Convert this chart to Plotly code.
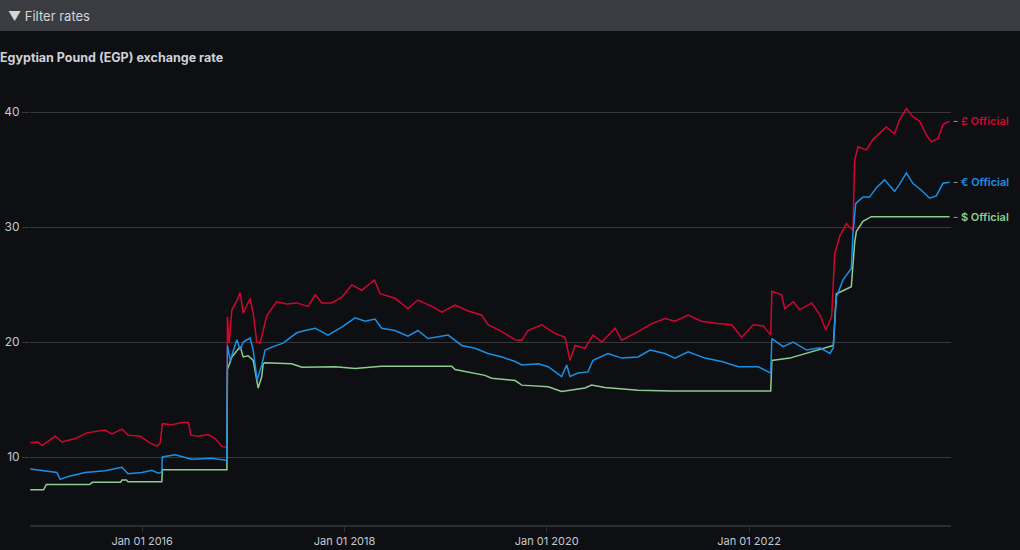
import plotly.graph_objects as go

# ---------------- data ----------------
gbp_dates = [
    "2014-11-23", "2014-12-20", "2015-01-04", "2015-02-21", "2015-03-17", "2015-05-04",
    "2015-06-15", "2015-08-20", "2015-09-14", "2015-10-20", "2015-11-11", "2015-12-25",
    "2016-01-30", "2016-02-23", "2016-03-06", "2016-03-14", "2016-04-17", "2016-05-23",
    "2016-06-16", "2016-06-25", "2016-07-21", "2016-08-26", "2016-09-21", "2016-10-15",
    "2016-11-02", "2016-11-04", "2016-11-10", "2016-11-20", "2016-12-08", "2016-12-20",
    "2016-12-31", "2017-01-25", "2017-02-05", "2017-02-18", "2017-03-02", "2017-03-26",
    "2017-05-01", "2017-06-06", "2017-07-12", "2017-08-22", "2017-09-17", "2017-10-11",
    "2017-11-16", "2017-12-22", "2018-01-27", "2018-03-04", "2018-04-19", "2018-05-09",
    "2018-07-02", "2018-08-18", "2018-09-23", "2018-11-12", "2018-12-18", "2019-02-04",
    "2019-03-23", "2019-05-11", "2019-06-03", "2019-07-23", "2019-09-09", "2019-10-03",
    "2019-10-25", "2019-12-14", "2020-01-31", "2020-03-07", "2020-03-25", "2020-04-12",
    "2020-05-18", "2020-06-16", "2020-07-18", "2020-09-04", "2020-09-28", "2020-11-26",
    "2021-01-14", "2021-03-03", "2021-04-08", "2021-05-26", "2021-07-13", "2021-09-10",
    "2021-10-30", "2021-12-05", "2022-01-16", "2022-02-21", "2022-03-20", "2022-03-24",
    "2022-04-28", "2022-05-10", "2022-06-09", "2022-07-03", "2022-08-15", "2022-09-14",
    "2022-10-05", "2022-10-26", "2022-11-06", "2022-11-24", "2022-12-18", "2023-01-11",
    "2023-01-17", "2023-01-29", "2023-02-28", "2023-03-24", "2023-05-11", "2023-06-10",
    "2023-06-28", "2023-07-23", "2023-08-15", "2023-09-09", "2023-10-03", "2023-10-21",
    "2023-11-14", "2023-12-02", "2023-12-26",
]
gbp_values = [
    11.25, 11.3, 11.0, 11.8, 11.3, 11.6,
    12.1, 12.35, 12.0, 12.43, 11.9, 11.8,
    11.2, 10.95, 11.2, 12.9, 12.8, 13.0,
    13.0, 11.9, 11.8, 11.95, 11.6, 10.9,
    10.85, 22.2, 19.9, 22.8, 23.6, 24.3,
    22.5, 23.8, 22.5, 20.0, 19.9, 22.3,
    23.5, 23.3, 23.4, 23.1, 24.1, 23.4,
    23.4, 23.9, 24.96, 24.5, 25.4, 24.2,
    23.8, 22.9, 23.65, 23.1, 22.6, 23.2,
    22.7, 22.35, 21.5, 20.9, 20.2, 20.15,
    21.0, 21.5, 20.75, 20.4, 18.4, 19.7,
    19.45, 20.6, 20.0, 21.2, 20.15, 20.9,
    21.6, 22.05, 21.8, 22.35, 21.8, 21.6,
    21.5, 20.4, 21.5, 21.4, 20.6, 24.4,
    24.1, 22.9, 23.5, 22.8, 23.4, 22.35,
    21.05, 22.2, 27.7, 29.2, 30.3, 29.7,
    35.8, 36.98, 36.7, 37.6, 38.7, 38.1,
    39.3, 40.3, 39.6, 39.2, 38.0, 37.4,
    37.7, 38.9, 39.2,
]

eur_dates = [
    "2014-11-23", "2015-01-16", "2015-02-27", "2015-03-11", "2015-04-09", "2015-06-09",
    "2015-08-20", "2015-10-20", "2015-11-11", "2015-12-31", "2016-02-05", "2016-02-28",
    "2016-03-12", "2016-03-14", "2016-04-29", "2016-06-28", "2016-09-09", "2016-11-02",
    "2016-11-04", "2016-11-14", "2016-12-08", "2016-12-20", "2016-12-31", "2017-01-25",
    "2017-02-05", "2017-02-19", "2017-03-08", "2017-03-20", "2017-04-18", "2017-05-24",
    "2017-07-12", "2017-08-11", "2017-09-17", "2017-11-02", "2017-12-22", "2018-02-08",
    "2018-03-16", "2018-04-21", "2018-05-15", "2018-07-02", "2018-08-18", "2018-09-23",
    "2018-10-29", "2019-01-10", "2019-02-28", "2019-04-17", "2019-06-03", "2019-07-23",
    "2019-09-09", "2019-10-03", "2019-12-01", "2020-01-06", "2020-02-24", "2020-03-13",
    "2020-03-25", "2020-04-23", "2020-05-29", "2020-06-16", "2020-08-09", "2020-09-28",
    "2020-11-26", "2021-01-08", "2021-03-03", "2021-04-08", "2021-05-26", "2021-07-25",
    "2021-09-24", "2021-11-23", "2022-02-03", "2022-03-20", "2022-03-24", "2022-05-04",
    "2022-06-09", "2022-07-28", "2022-09-14", "2022-10-20", "2022-11-01", "2022-11-12",
    "2022-12-06", "2023-01-05", "2023-01-11", "2023-01-21", "2023-02-16", "2023-03-12",
    "2023-04-05", "2023-05-05", "2023-06-10", "2023-06-28", "2023-07-23", "2023-08-15",
    "2023-09-15", "2023-10-15", "2023-11-08", "2023-12-02", "2023-12-26",
]
eur_values = [
    8.95, 8.75, 8.65, 8.05, 8.3, 8.65,
    8.8, 9.1, 8.55, 8.65, 8.85, 8.6,
    8.7, 10.0, 10.2, 9.8, 9.9, 9.7,
    19.7, 18.4, 20.2, 19.3, 20.0, 20.35,
    19.3, 16.7, 18.0, 19.3, 19.6, 19.9,
    20.8, 21.0, 21.2, 20.6, 21.3, 22.1,
    21.8, 22.0, 21.2, 21.0, 20.5, 21.0,
    20.3, 20.6, 19.7, 19.45, 19.0, 18.7,
    18.3, 18.0, 18.1, 17.85, 17.0, 18.0,
    17.0, 17.3, 17.4, 18.4, 19.0, 18.6,
    18.7, 19.3, 19.0, 18.6, 19.15, 18.6,
    18.3, 17.85, 17.85, 17.3, 20.3, 19.6,
    20.0, 19.3, 19.5, 19.0, 19.5, 23.9,
    25.4, 26.4, 29.45, 32.06, 32.6, 32.6,
    33.4, 34.1, 33.1, 33.7, 34.7, 33.8,
    33.2, 32.5, 32.7, 33.8, 33.9,
]

usd_dates = [
    "2014-11-23", "2015-01-10", "2015-01-20", "2015-06-25", "2015-07-05", "2015-10-15",
    "2015-10-20", "2015-11-05", "2015-11-11", "2016-03-12", "2016-03-14", "2016-11-02",
    "2016-11-04", "2016-11-20", "2016-12-20", "2016-12-31", "2017-01-18", "2017-02-05",
    "2017-02-23", "2017-03-08", "2017-03-13", "2017-03-20", "2017-06-24", "2017-07-31",
    "2017-11-28", "2018-02-08", "2018-05-15", "2019-01-23", "2019-02-04", "2019-05-23",
    "2019-06-16", "2019-09-09", "2019-10-03", "2020-01-06", "2020-02-24", "2020-05-18",
    "2020-06-11", "2020-07-29", "2020-11-26", "2021-03-27", "2022-03-20", "2022-03-24",
    "2022-05-28", "2022-11-01", "2022-11-12", "2023-01-05", "2023-01-17", "2023-01-23",
    "2023-02-16", "2023-03-18", "2023-12-26",
]
usd_values = [
    7.15, 7.15, 7.6, 7.6, 7.8, 7.8,
    8.0, 8.0, 7.85, 7.85, 8.9, 8.9,
    17.6, 18.7, 19.6, 18.7, 18.8, 18.4,
    16.0, 17.0, 18.1, 18.2, 18.1, 17.8,
    17.85, 17.7, 17.9, 17.9, 17.6, 17.1,
    16.85, 16.65, 16.25, 16.1, 15.7, 16.0,
    16.25, 16.05, 15.8, 15.75, 15.75, 18.4,
    18.6, 19.7, 24.2, 24.8, 28.6, 29.6,
    30.5, 30.9, 30.9,
]

series_names = ["£ Official", "$ Official", "€ Official"]
series_colors = ["#d1062f", "#8fcc8f", "#1a8fe6"]

title_text = "Egyptian Pound (EGP) exchange rate"
filter_text = "▼ Filter rates"
y_ticks = [10, 20, 30, 40]
x_range = ["2014-11-22", "2023-12-31"]
y_range = [4.087, 42]

# ---------------- figure ----------------
BG = "#0e0f12"
GRID = "#35373b"
TEXT = "#c4c8cf"
FONT = "Inter"

fig = go.Figure()
all_series = [
    (gbp_dates, gbp_values),
    (usd_dates, usd_values),
    (eur_dates, eur_values),
]
for (d, v), name, color in zip(all_series, series_names, series_colors):
    fig.add_trace(go.Scatter(
        x=d, y=v, mode="lines", name=name,
        line=dict(color=color, width=1.5),
        hoverinfo="skip", showlegend=False,
    ))
    fig.add_annotation(
        x=d[-1], y=v[-1], xref="x", yref="y",
        text=f"<span style='color:#8b8e94'>-</span> {name}",
        showarrow=False, xanchor="left", yanchor="middle", xshift=1,
        font=dict(family=FONT, size=11, color=color, weight=600),
    )

# plot area in pixels: x 30..951, y 89..525
W, H = 1020, 550
L, R, T, B = 30, 69, 89, 25
pw, ph = W - L - R, H - T - B

def px_x(x):
    return (x - L) / pw

def px_y(y):
    return (H - B - y) / ph

fig.add_shape(type="rect", xref="paper", yref="paper",
              x0=px_x(0), x1=px_x(W), y0=px_y(31), y1=px_y(0),
              fillcolor="#3a3c41", line=dict(width=0), layer="below")
fig.add_annotation(x=px_x(6), y=px_y(16), xref="paper", yref="paper",
                   text=filter_text, showarrow=False, xanchor="left", yanchor="middle",
                   font=dict(family=FONT, size=13, color="#d3d6db"))

fig.update_layout(
    width=W, height=H, autosize=False,
    margin=dict(l=L, r=R, t=T, b=B, pad=0, autoexpand=False),
    paper_bgcolor=BG, plot_bgcolor=BG,
    font=dict(family=FONT, color=TEXT, size=12),
    title=dict(text=title_text, x=0, xref="container", xanchor="left",
               y=1 - 58 / H, yref="container", yanchor="middle", automargin=False,
               font=dict(family=FONT, size=12.5, color="#cdd2da", weight=700)),
    xaxis=dict(
        type="date", range=x_range, showgrid=False, zeroline=False, automargin=False,
        showline=True, linecolor="#2c2e32", linewidth=2,
        ticks="outside", ticklen=5, tickcolor="#2c2e32", tickwidth=1,
        tick0="2016-01-01", dtick="M24", tickformat="%b %d %Y",
        tickfont=dict(family=FONT, size=11, color=TEXT),
    ),
    yaxis=dict(
        range=y_range, tickvals=y_ticks, showgrid=True, gridcolor=GRID, gridwidth=1,
        zeroline=False, showline=False, automargin=False,
        ticks="outside", ticklen=7, tickcolor=GRID, tickwidth=1,
        tickfont=dict(family=FONT, size=12, color=TEXT),
    ),
)

fig.write_html(
    "out.html",
    config={"displayModeBar": False},
    post_script="document.body.style.margin='0';document.body.style.background='#0e0f12';",
)
